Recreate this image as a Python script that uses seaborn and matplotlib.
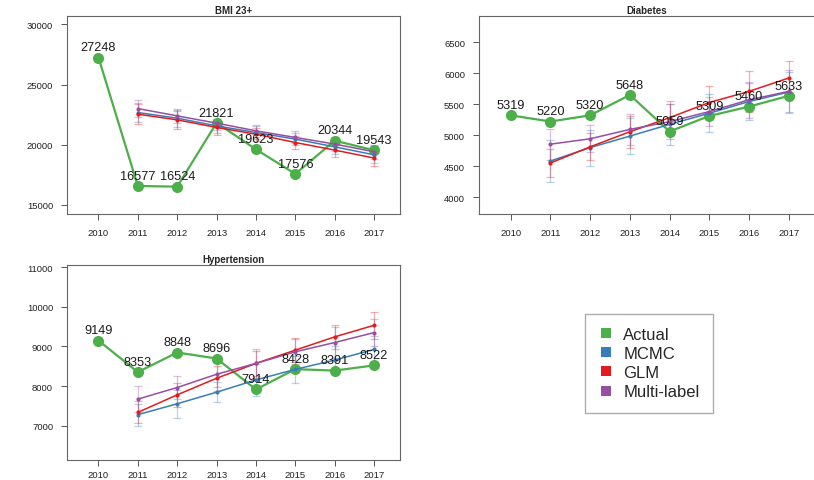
import numpy as np
import pandas as pd
import seaborn as sns
import matplotlib.pyplot as plt
from matplotlib.lines import Line2D

years = [2010, 2011, 2012, 2013, 2014, 2015, 2016, 2017]
model_years = years[1:]

# BMI 23+
bmi_actual = [27248, 16577, 16524, 21821, 19623, 17576, 20344, 19543]
bmi_mcmc = [22680, 22210, 21570, 21020, 20470, 19830, 19170]
bmi_mcmc_err = [800, 700, 600, 500, 500, 600, 700]
bmi_glm = [22540, 22070, 21440, 20880, 20190, 19560, 18900]
bmi_glm_err = [850, 750, 650, 550, 500, 600, 650]
bmi_multi = [23010, 22400, 21800, 21160, 20610, 20060, 19420]
bmi_multi_err = [700, 600, 550, 500, 500, 550, 600]

# Diabetes
dia_actual = [5319, 5220, 5320, 5648, 5059, 5309, 5460, 5633]
dia_mcmc = [4584, 4800, 4985, 5174, 5353, 5542, 5694]
dia_mcmc_err = [335, 290, 290, 335, 310, 295, 320]
dia_glm = [4552, 4812, 5055, 5282, 5526, 5705, 5920]
dia_glm_err = [230, 220, 255, 265, 265, 325, 270]
dia_multi = [4855, 4942, 5093, 5217, 5380, 5569, 5705]
dia_multi_err = [250, 215, 255, 285, 230, 290, 340]

# Hypertension
hyp_actual = [9149, 8353, 8848, 8696, 7914, 8428, 8391, 8522]
hyp_mcmc = [7276, 7552, 7845, 8155, 8422, 8657, 8925]
hyp_mcmc_err = [275, 350, 260, 400, 340, 350, 350]
hyp_glm = [7335, 7778, 8197, 8573, 8908, 9243, 9536]
hyp_glm_err = [275, 300, 320, 320, 300, 300, 345]
hyp_multi = [7670, 7963, 8298, 8573, 8866, 9100, 9351]
hyp_multi_err = [320, 285, 310, 375, 315, 400, 350]

series_names = ['Actual', 'MCMC', 'GLM', 'Multi-label']
colors = ['#4DAF4A', '#377EB8', '#E41A1C', '#984EA3']

sns.set_style('white')
plt.rcParams['font.family'] = ['Liberation Sans', 'DejaVu Sans']


def draw_panel(ax, title, actual, models, ylim, yticks, xpad=6):
    green = colors[0]
    sns.lineplot(x=years, y=actual, color=green, marker='o', markersize=8,
                 markeredgewidth=0, linewidth=1.6, ax=ax, zorder=2)
    for (vals, err), col in zip(models, colors[1:]):
        ax.errorbar(model_years, vals, yerr=err, fmt='none', ecolor=col,
                    alpha=0.35, capsize=3, elinewidth=0.9, capthick=0.9, zorder=1)
        sns.lineplot(x=model_years, y=vals, color=col, marker='o', markersize=3,
                     markeredgewidth=0, linewidth=1.1, ax=ax, zorder=3)
    for yr, v in zip(years, actual):
        ax.annotate(str(v), (yr, v), xytext=(0, 3), textcoords='offset points',
                    ha='center', va='bottom', fontsize=9.2, color='#1a1a1a', zorder=4)
    ax.set_xlim(2009.2, 2017.66)
    ax.set_ylim(*ylim)
    ax.set_xticks(years)
    ax.set_yticks(yticks)
    ax.tick_params(axis='both', labelsize=6.8, labelcolor='#222222', length=4,
                   width=0.7, color='#555555', direction='out', bottom=True, left=True)
    ax.tick_params(axis='x', pad=xpad)
    ax.tick_params(axis='y', pad=6)
    for s in ax.spines.values():
        s.set_color('#666666')
        s.set_linewidth(0.8)
    ax.set_title(title, fontsize=7, fontweight='bold', pad=2)
    ax.set_xlabel('')
    ax.set_ylabel('')


fig = plt.figure(figsize=(8.14, 4.81), dpi=100)
ax1 = fig.add_axes([0.0823, 0.553, 0.4091, 0.4117])
ax2 = fig.add_axes([0.5885, 0.553, 0.4125, 0.4117])
ax3 = fig.add_axes([0.0823, 0.0415, 0.4091, 0.4055])

draw_panel(ax1, 'BMI 23+', bmi_actual,
           [(bmi_mcmc, bmi_mcmc_err), (bmi_glm, bmi_glm_err), (bmi_multi, bmi_multi_err)],
           (14250, 30700), [15000, 20000, 25000, 30000])
draw_panel(ax2, 'Diabetes', dia_actual,
           [(dia_mcmc, dia_mcmc_err), (dia_glm, dia_glm_err), (dia_multi, dia_multi_err)],
           (3730, 6920), [4000, 4500, 5000, 5500, 6000, 6500])
draw_panel(ax3, 'Hypertension', hyp_actual,
           [(hyp_mcmc, hyp_mcmc_err), (hyp_glm, hyp_glm_err), (hyp_multi, hyp_multi_err)],
           (6130, 11060), [7000, 8000, 9000, 10000, 11000], xpad=3)

handles = [Line2D([], [], linestyle='none', marker='s', markersize=7,
                  markerfacecolor=c, markeredgewidth=0) for c in colors]
leg = fig.legend(handles, series_names, loc='center', bbox_to_anchor=(0.797, 0.243),
                 fontsize=12, frameon=True, fancybox=False, handletextpad=0.5,
                 handlelength=1.0, labelspacing=0.25, borderpad=0.8)
leg.get_frame().set_edgecolor('#999999')
leg.get_frame().set_linewidth(1.0)

fig.savefig('out.png', dpi=100)
